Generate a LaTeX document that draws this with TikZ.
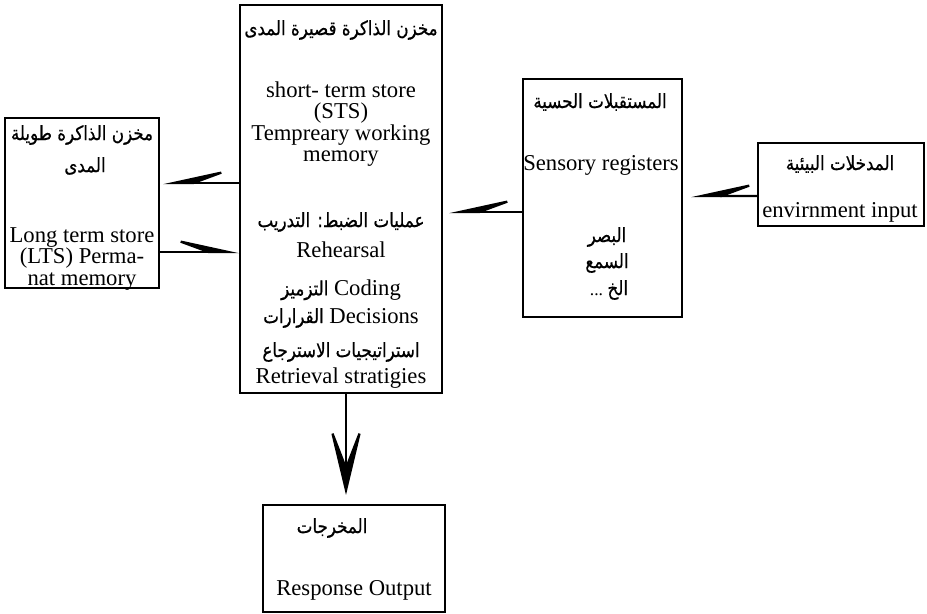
\documentclass[tikz,border=0pt]{standalone}
\usepackage{fontspec}
\setmainfont{Liberation Serif}
\newfontfamily\arabicfont[Script=Arabic,FakeStretch=0.85,FakeBold=0.6]{DejaVu Sans}
\TeXXeTstate=1
\usetikzlibrary{arrows.meta,calc}
\newcommand\artxt[1]{{\arabicfont\fontsize{11.2}{12}\selectfont\beginR #1\endR}}
\tikzset{
  box/.style={
    draw,
    line width=1.4pt,
    inner sep=0pt
  },
  eng/.style={
    font=\fontsize{12.9}{12.2}\selectfont,
    align=center,
    inner sep=1pt
  },
  arab/.style={
    align=center,
    inner sep=1pt
  },
  harpL/.style={
    line width=1.3pt,
    -{Stealth[harpoon,swap,length=39pt,width=17pt,inset=23pt]}
  },
  harpR/.style={
    line width=1.3pt,
    -{Stealth[harpoon,length=39pt,width=17pt,inset=23pt]}
  },
  downarr/.style={
    line width=1.3pt,
    -{Stealth[length=44pt,width=21pt,inset=27pt]}
  }
}
\begin{document}
\begin{tikzpicture}[x=0.02cm,y=-0.02cm]
  \useasboundingbox (0,0) rectangle (927,614);
  % boxes
  \node[box, minimum width=3.08cm, minimum height=3.4cm] (lts) at (82,203) {};
  \node[box, minimum width=4.04cm, minimum height=7.76cm] (sts) at (341,199) {};
  \node[box, minimum width=3.18cm, minimum height=4.76cm] (sens) at (602.5,198) {};
  \node[box, minimum width=3.32cm, minimum height=1.66cm] (env) at (841,184.5) {};
  \node[box, minimum width=3.64cm, minimum height=2.14cm] (resp) at (354,558.5) {};

  % long term store
  \node[arab] (ltsA) at (82,135) {\artxt{مخزن الذاكرة طويلة}};
  \node[arab] (ltsB) at (85,166) {\artxt{المدى}};
  \node[eng] (ltsE) at (82,259) {Long term store\\(LTS) Perma-\\nat memory};

  % short term store
  \node[arab] (stsA) at (341,30) {\artxt{مخزن الذاكرة قصيرة المدى}};
  \node[eng] (stsE) at (341,124) {short- term store\\(STS)\\Tempreary working\\memory};
  \node[arab] (ctrl) at (341,222) {\artxt{عمليات الضبط: التدريب}};
  \node[eng] (reh) at (341,250) {Rehearsal};
  \node[eng] (cod) at (341,290) {\artxt{التزميز} Coding};
  \node[eng] (dec) at (341,318) {\artxt{القرارات} Decisions};
  \node[arab] (retA) at (341,352) {\artxt{استراتيجيات الاسترجاع}};
  \node[eng] (retE) at (341,378) {Retrieval stratigies};

  % sensory registers
  \node[arab] (sensA) at (600,102) {\artxt{المستقبلات الحسية}};
  \node[eng] (sensE) at (601,165) {Sensory registers};
  \node[arab] (see) at (607,237) {\artxt{البصر}};
  \node[arab] (hear) at (607,263) {\artxt{السمع}};
  \node[arab] (etc) at (609,290) {...~\artxt{الخ}};

  % environment
  \node[arab] (envA) at (840,164) {\artxt{المدخلات البيئية}};
  \node[eng] (envE) at (840,212) {envirnment input};

  % output
  \node[arab] (respA) at (332,528) {\artxt{المخرجات}};
  \node[eng] (respE) at (354,590) {Response Output};

  % arrows
  \draw[harpL, shorten >=4.5pt] ($(env.west)+(0,11.5)$) -- ($(sens.east)+(0,-2)$);
  \draw[harpL, shorten >=3.4pt] ($(sens.west)+(0,14)$) -- ($(sts.east)+(0,13)$);
  \draw[harpL, shorten >=1.7pt] ($(sts.west)+(0,-16)$) -- ($(lts.east)+(0,-20)$);
  \draw[harpR] ($(lts.east)+(0,49)$) -- ($(sts.west)+(0,53)$);
  \draw[downarr, shorten >=5pt] ($(sts.south)+(5,0)$) -- ($(resp.north)+(-8,0)$);
\end{tikzpicture}
\end{document}
